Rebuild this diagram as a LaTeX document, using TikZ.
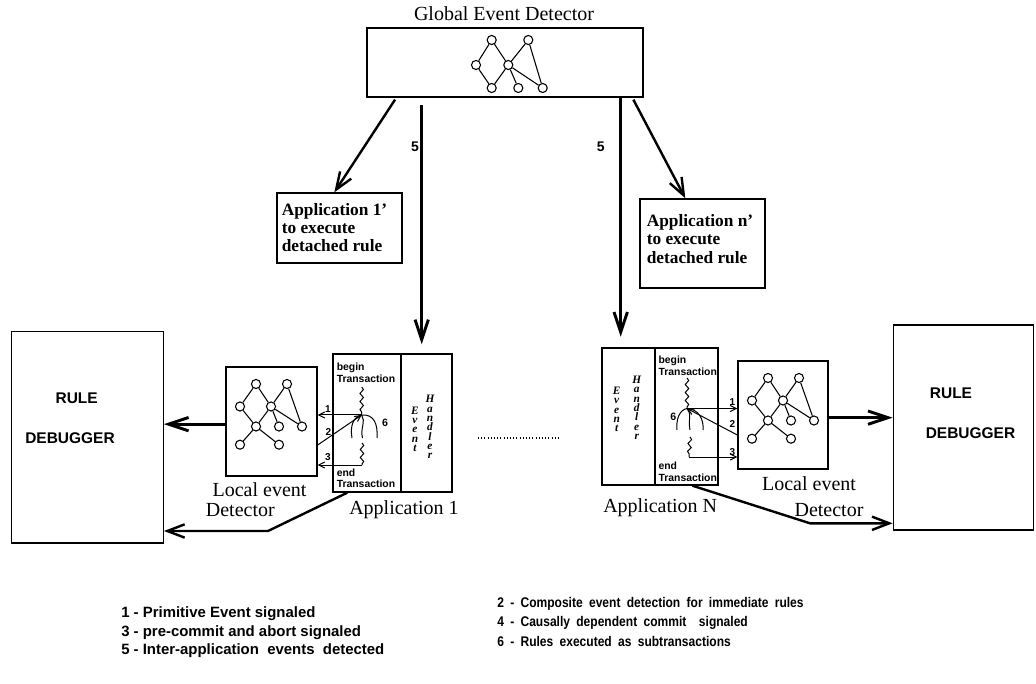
\documentclass[tikz,border=0pt]{standalone}
\usepackage{fontspec}
\setmainfont{Liberation Serif}
\setsansfont{Liberation Sans}
\newfontfamily\narrowsans{Liberation Sans}[FakeStretch=0.86]
\usetikzlibrary{arrows.meta,fit,calc,decorations.pathmorphing}

% event graph drawn inside a detector box; #1 name prefix, (#2,#3) box corner
\newcommand\eventgraph[3]{%
  \begin{scope}[shift={(#2,#3)}]
    \node[gnode] (#1a) at (30,17) {};
    \node[gnode] (#1b) at (61,17) {};
    \node[gnode] (#1c) at (14,39.5) {};
    \node[gnode] (#1d) at (45,39.5) {};
    \node[gnode] (#1e) at (30,59.5) {};
    \node[gnode] (#1f) at (53,59.5) {};
    \node[gnode] (#1g) at (76,59.5) {};
    \node[gnode] (#1h) at (14,77.7) {};
    \node[gnode] (#1i) at (53,77.7) {};
    \draw[gedge] (#1a)--(#1c) (#1a)--(#1d) (#1b)--(#1d) (#1b)--(#1g)
      (#1c)--(#1e) (#1d)--(#1e) (#1d)--(#1f) (#1d)--(#1g)
      (#1e)--(#1h) (#1e)--(#1i);
  \end{scope}}
% wider word spacing for the right-hand key column
\newcommand\widewords{\spaceskip=0.45em plus 0.1em\relax}

\begin{document}
\begin{tikzpicture}[x=0.75pt,y=-0.75pt,
  box/.style={draw, line width=1pt, inner sep=0pt},
  gnode/.style={circle, draw, line width=0.8pt, fill=white, minimum size=6.8pt, inner sep=0pt},
  gedge/.style={line width=0.8pt},
  bigarrow/.style={line width=2.2pt, -{Straight Barb[length=15pt,width=10pt]}},
  diagarrow/.style={line width=1.8pt, -{Straight Barb[length=13pt,width=10pt]}},
  thinarrow/.style={line width=0.75pt, -{Straight Barb[length=4.5pt,width=4.5pt]}},
  squig/.style={line width=0.75pt, decorate, decoration={snake, segment length=6pt, amplitude=1.3pt}},
  branch/.style={line width=0.75pt},
  seriflabel/.style={font=\fontsize{15}{17}\selectfont, inner sep=0pt},
  apptext/.style={font=\bfseries\fontsize{13}{13.6}\selectfont, align=left, inner sep=0pt, anchor=north west},
  rulefont/.style={font=\sffamily\bfseries\fontsize{11.6}{13}\selectfont, inner sep=0pt},
  fivefont/.style={font=\sffamily\bfseries\fontsize{10.5}{12}\selectfont, inner sep=0pt},
  trfont/.style={font=\sffamily\bfseries\fontsize{7.8}{8.7}\selectfont, align=left, inner sep=0pt, anchor=west},
  numfont/.style={font=\sffamily\bfseries\fontsize{7.5}{8}\selectfont, inner sep=0pt},
  evfont/.style={font=\bfseries\itshape\fontsize{8.5}{7}\selectfont, align=center, inner sep=0pt, anchor=north},
  legl/.style={font=\sffamily\bfseries\fontsize{11.2}{13}\selectfont, inner sep=0pt, anchor=west},
  legr/.style={font=\narrowsans\bfseries\fontsize{10.5}{12}\selectfont, inner sep=0pt, anchor=west}
]
\useasboundingbox (0,0) rectangle (1036,684);

% ---------- global event detector ----------
\node[seriflabel] (gedtitle) at (504,14) {Global Event Detector};
\node[box, fit={(367,28) (643,97)}] (ged) {};
\node[gnode] (g1) at (491.7,40) {};
\node[gnode] (g2) at (528.3,40) {};
\node[gnode] (g3) at (476,65) {};
\node[gnode] (g4) at (508.3,65) {};
\node[gnode] (g5) at (491.7,88) {};
\node[gnode] (g6) at (518.3,88) {};
\node[gnode] (g7) at (542.7,88) {};
\draw[gedge] (g1)--(g3) (g1)--(g4) (g2)--(g4) (g2)--(g7)
  (g3)--(g5) (g4)--(g5) (g4)--(g6) (g4)--(g7);

% ---------- detached rule applications ----------
\node[box, fit={(277,193) (402,263)}] (ap1p) {};
\node[apptext] (ap1ptext) at (281.5,203) {Application 1'\\to execute\\detached rule};
\node[box, fit={(640,199) (765,288)}] (apnp) {};
\node[apptext] (apnptext) at (646.5,214.5) {Application n'\\to execute\\detached rule};

\draw[diagarrow] ($(ged.south west)+(28.7,2)$) -- ($(ap1p.north west)+(58,0)$);
\draw[diagarrow] ($(ged.south east)+(-10.3,2)$) -- ($(apnp.north west)+(46,0)$);

% ---------- application 1 ----------
\node[box, fit={(333,354) (401,492)}] (app1t) {};
\node[box, fit={(401,354) (452,492)}] (app1e) {};
\node[trfont] (app1b) at (336.5,372.5) {begin\\Transaction};
\node[trfont] (app1n) at (336.5,478.3) {end\\Transaction};
\node[evfont] (app1ev) at (415,406.5) {E\\v\\e\\n\\t};
\node[evfont] (app1hd) at (430,395) {H\\a\\n\\d\\l\\e\\r};
\node[seriflabel, anchor=west] (app1lbl) at (349,510) {Application 1};

% ---------- application N ----------
\node[box, fit={(602,348) (655,485)}] (appNe) {};
\node[box, fit={(655,348) (718,485)}] (appNt) {};
\node[trfont] (appNb) at (658.3,365.8) {begin\\Transaction};
\node[trfont] (appNn) at (658.3,471.8) {end\\Transaction};
\node[evfont] (appNev) at (616.7,386.8) {E\\v\\e\\n\\t};
\node[evfont] (appNhd) at (636.7,375.8) {H\\a\\n\\d\\l\\e\\r};
\node[seriflabel, anchor=west] (appNlbl) at (603,508) {Application N};

% ---------- inter-application events ----------
\coordinate (v1) at (421.7,105);
\draw[bigarrow, shorten >=6.8pt] (v1) -- (v1 |- app1e.north);
\node[fivefont] (five1) at (415,147) {5};
\coordinate (v2) at (620.7,97);
\draw[bigarrow, shorten >=8pt] (ged.south -| v2) -- (v2 |- appNe.north);
\node[fivefont] (five2) at (600.7,147) {5};

% ---------- local event detectors ----------
\node[box, fit={(226,367) (317,476)}] (ld1) {};
\eventgraph{la}{226}{367}
\node[seriflabel] (ld1lblA) at (259.5,490) {Local event};
\node[seriflabel] (ld1lblB) at (240.3,510) {Detector};

\node[box, fit={(738,361) (828,469)}] (ld2) {};
\eventgraph{lb}{738}{361}
\node[seriflabel] (ld2lblA) at (809,483.3) {Local event};
\node[seriflabel] (ld2lblB) at (829,510) {Detector};

% ---------- rule debuggers ----------
\node[box, fit={(11.7,331.7) (163.3,543)}] (dbg1) {};
\node[rulefont] (dbg1a) at (76.7,398) {RULE};
\node[rulefont] (dbg1b) at (70,438) {DEBUGGER};
\node[box, fit={(893.3,325) (1033.5,530)}] (dbg2) {};
\node[rulefont] (dbg2a) at (951,393.3) {RULE};
\node[rulefont] (dbg2b) at (970.5,432.7) {DEBUGGER};

\draw[bigarrow] ([yshift=-2pt]ld1.west) -- ([yshift=-2pt]ld1.west -| dbg1.east);
\draw[bigarrow] ([yshift=-2pt]ld2.east) -- ([yshift=-2pt]ld2.east -| dbg2.west);
\coordinate (c1) at (268,531);
\draw[diagarrow] ($(app1t.south west)+(15,0)$) -- (c1) -- (c1 -| dbg1.east);
\coordinate (c2) at (810,523.3);
\draw[diagarrow] ($(appNt.south west)+(38,0)$) -- (c2) -- (c2 -| dbg2.west);

% ---------- transaction in application 1 ----------
\coordinate (p1top) at (361.7,387);
\coordinate (p1) at (361.7,415);
\coordinate (p1low) at (362,443);
\coordinate (p1end) at (362,465);
\coordinate (q1) at (340,445);
\draw[squig] (p1top) -- (p1);
\draw[thinarrow] (p1) -- (ld1.east |- p1);
\draw[thinarrow] (ld1.east |- q1) -- (p1);
\draw[branch] (p1) .. controls (353,417) and (350,426) .. (352,438);
\draw[branch] (p1) .. controls (366,421) and (360,429) .. (362.5,438);
\draw[branch] (p1) .. controls (374,414) and (378,424) .. (377,438);
\draw[squig] (p1low) -- (p1end);
\draw[thinarrow] (p1end) -- (ld1.east |- p1end);
\node[numfont] (n11) at (328,409) {1};
\node[numfont] (n12) at (328.3,431.7) {2};
\node[numfont] (n13) at (328,457) {3};
\node[font=\sffamily\bfseries\fontsize{8}{9}\selectfont, inner sep=0pt] (n16) at (385,423.3) {6};

% ---------- transaction in application N ----------
\coordinate (p2top) at (687,378);
\coordinate (p2) at (687,408.5);
\coordinate (p2low) at (690,437);
\coordinate (p2end) at (689,457);
\coordinate (q2) at (720,435);
\draw[squig] (p2top) -- (p2);
\draw[thinarrow] (p2) -- (ld2.west |- p2);
\draw[thinarrow] (ld2.west |- q2) -- (p2);
\draw[branch] (p2) .. controls (679,410) and (676,420) .. (677,430);
\draw[branch] (p2) .. controls (692,413) and (688,421) .. (690,430);
\draw[branch] (p2) .. controls (699,409) and (704,420) .. (703,430);
\draw[squig] (p2low) -- (p2end);
\draw[thinarrow] (p2end) -- (ld2.west |- p2end);
\node[numfont] (n21) at (732.3,401.7) {1};
\node[numfont] (n22) at (732.3,424) {2};
\node[numfont] (n23) at (732.3,451.7) {3};
\node[font=\sffamily\bfseries\fontsize{8}{9}\selectfont, inner sep=0pt] (n26) at (673.3,416.7) {6};

% more applications in between
\draw[line width=1pt, dash pattern=on 0.8pt off 1.6pt] (478,438) -- (560,438);

% ---------- legend ----------
\node[legl] (k1) at (121,614) {1 - Primitive Event signaled};
\node[legl] (k3) at (121,632.5) {3 - pre-commit and abort signaled};
\node[legl] (k5) at (121,651) {5 - Inter-application\ \ events\ \ detected};
\node[legr] (k2) at (497,604) {\widewords 2 - Composite event detection for immediate rules};
\node[legr] (k4) at (497,622.5) {\widewords 4 - Causally dependent commit\ \ signaled};
\node[legr] (k6) at (497,641) {\widewords 6 - Rules executed as subtransactions};
\end{tikzpicture}
\end{document}
